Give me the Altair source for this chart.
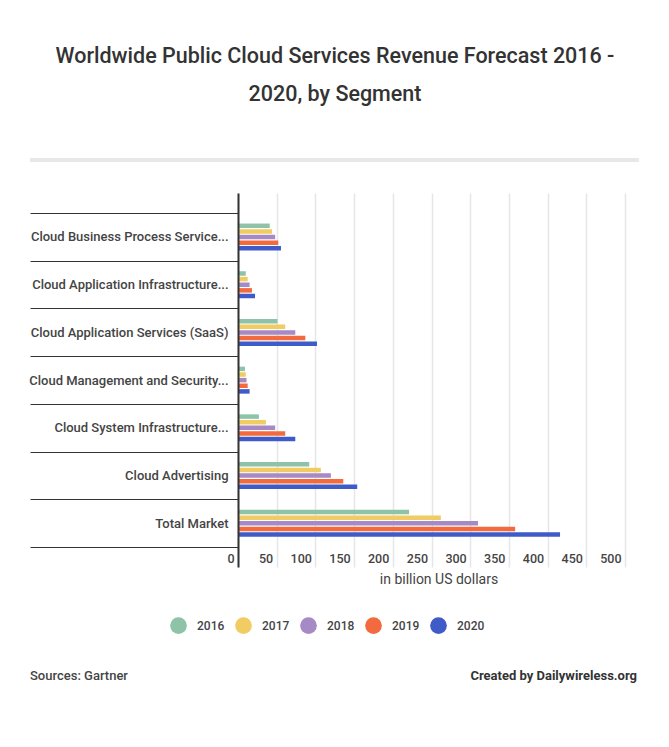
import altair as alt
import pandas as pd

segments = [
    "Cloud Business Process Services (BPaaS)",
    "Cloud Application Infrastructure Services (PaaS)",
    "Cloud Application Services (SaaS)",
    "Cloud Management and Security Services",
    "Cloud System Infrastructure Services (IaaS)",
    "Cloud Advertising",
    "Total Market",
]
short_labels = [
    "Cloud Business Process Service...",
    "Cloud Application Infrastructure...",
    "Cloud Application Services (SaaS)",
    "Cloud Management and Security...",
    "Cloud System Infrastructure...",
    "Cloud Advertising",
    "Total Market",
]
years = ["2016", "2017", "2018", "2019", "2020"]
v2016 = [41, 10, 51, 9, 27, 92, 221]
v2017 = [44, 12.5, 61, 10, 36, 107, 262]
v2018 = [48, 15, 74, 11, 48, 120, 310]
v2019 = [52, 18, 87, 12.5, 61, 136, 358]
v2020 = [55.5, 22, 102, 15, 74, 154, 416]
tick_values = [0, 50, 100, 150, 200, 250, 300, 350, 400, 450, 500]
colors = ["#8ec3a7", "#f0cc63", "#a68ac6", "#f26a3d", "#3f5bc7"]

rows = []
for yr, vals in zip(years, [v2016, v2017, v2018, v2019, v2020]):
    for s, v in zip(segments, vals):
        rows.append({"segment": s, "year": yr, "value": v})
df = pd.DataFrame(rows)

label_expr = "datum.label"
for full, short in zip(segments, short_labels):
    label_expr = f"datum.label === '{full}' ? '{short}' : ({label_expr})"

FONT = "Roboto"
TXT = "#444444"

bars = alt.Chart(df).mark_bar().encode(
    y=alt.Y(
        "segment:N",
        sort=segments,
        scale=alt.Scale(paddingInner=0, paddingOuter=0.42),
        axis=alt.Axis(
            title=None, tickBand="extent", tickSize=208, tickColor="#333333", tickWidth=1,
            domainColor="#333333", domainWidth=2, labelPadding=-198, labelLimit=260,
            labelExpr=label_expr,
            labelFont=FONT, labelFontSize=13, labelFontWeight=500, labelColor=TXT,
            zindex=1, grid=False,
        ),
    ),
    yOffset=alt.YOffset("year:N", sort=years,
                        scale=alt.Scale(range=[10.5, 37.5], paddingInner=0.2, paddingOuter=0)),
    x=alt.X(
        "value:Q",
        scale=alt.Scale(domain=[0, 518], nice=False),
        axis=alt.Axis(
            values=tick_values, title="in billion US dollars", grid=True, gridColor="#e6e6e6",
            gridWidth=1.5, domain=False, ticks=False, labelAlign="right", labelOffset=-4,
            labelBaseline="middle", labelPadding=-9, labelFont=FONT, labelFontSize=12.5,
            labelFontWeight=500, labelColor=TXT, titleFont=FONT, titleFontSize=14,
            titleFontWeight=400, titleColor=TXT, titleY=12, titleBaseline="middle",
        ),
    ),
    color=alt.Color(
        "year:N",
        scale=alt.Scale(domain=years, range=colors),
        legend=alt.Legend(
            title=None, orient="none", direction="horizontal", legendX=-68, legendY=424,
            symbolType="circle", symbolSize=280, symbolStrokeWidth=0, symbolOpacity=1,
            labelFont=FONT, labelFontSize=12, labelFontWeight=500, labelColor=TXT,
            labelOffset=10, columnPadding=10,
        ),
    ),
)

one = pd.DataFrame({"a": [0]})


def text(t, x, y, align="center", size=12, weight=400, color=TXT):
    return alt.Chart(one).mark_text(
        text=t, align=align, baseline="middle", font=FONT, fontSize=size,
        fontWeight=weight, color=color,
    ).encode(x=alt.value(x), y=alt.value(y))


title1 = text("Worldwide Public Cloud Services Revenue Forecast 2016 -", 97, -136, size=21.5, weight=500, color="#333333")
title2 = text("2020, by Segment", 97, -98, size=21.5, weight=500, color="#333333")
sep = alt.Chart(one).mark_rule(strokeWidth=4, color="#e8e8e8").encode(
    x=alt.value(-208), x2=alt.value(401), y=alt.value(-33)
)
src = text("Sources: Gartner", -208, 483, align="left", size=13, weight=500)
cred = text("Created by Dailywireless.org", 399, 483, align="right", size=13, weight=700, color="#333333")

chart = alt.layer(bars, sep, title1, title2, src, cred).properties(
    width=401, height=374,
    autosize=alt.AutoSizeParams(type="none"),
    padding={"left": 238, "top": 193, "right": 30, "bottom": 180},
).configure_view(stroke=None)

chart.save("out.html", embed_options={"renderer": "svg", "actions": False})
